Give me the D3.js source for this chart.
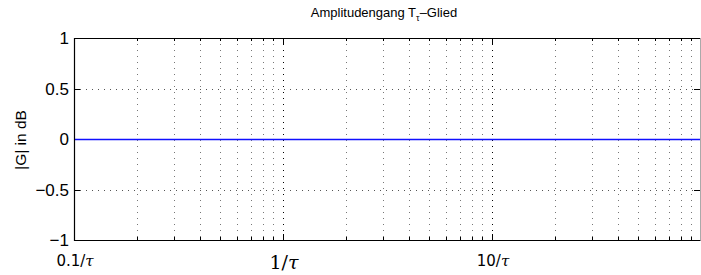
<!DOCTYPE html>
<html>
<head>
<meta charset="utf-8">
<script src="https://cdn.jsdelivr.net/npm/d3@7"></script>
<style>
  body { margin: 0; background: #fff; }
  svg { display: block; }
</style>
</head>
<body>
<div id="chart"></div>
<script>
// data
var omega = [0.1, 1, 10, 100];
var magDb = [0, 0, 0, 0];
var yTicks = [-1, -0.5, 0, 0.5, 1];
var yTickLabels = ["\u22121", "\u22120.5", "0", "0.5", "1"];
var xMajor = [0.1, 1, 10];
var xMajorLabels = ["0.1", "1", "10"];

var width = 701, height = 275;
var margin = { left: 74, right: 0, top: 38, bottom: 35 };

var svg = d3.select("#chart").append("svg")
    .attr("width", width)
    .attr("height", height);

//scales
var x = d3.scaleLog().domain([0.1, 100]).range([margin.left, width - margin.right]);
var y = d3.scaleLinear().domain([-1, 1]).range([height - margin.bottom, margin.top]);

var x0 = x.range()[0], x1 = x.range()[1];
var y0 = y.range()[0], y1 = y.range()[1];

//grid
var grid = svg.append("g").attr("class", "grid");
var xGrid = x.ticks().filter(d => d > 0.1 && d < 100);
grid.selectAll(".vgrid")
    .data(xGrid)
    .enter()
    .append("line")
    .attr("x1", d => Math.round(x(d)) + 0.5)
    .attr("x2", d => Math.round(x(d)) + 0.5)
    .attr("y1", y1)
    .attr("y2", y0)
    .attr("stroke", d => xMajor.indexOf(d) >= 0 ? "#000" : "#777")
    .attr("stroke-width", 1)
    .attr("stroke-dasharray", "1,5");

grid.selectAll(".hgrid")
    .data(yTicks.filter(d => d !== -1 && d !== 1 && d !== 0))
    .enter()
    .append("line")
    .attr("x1", x0)
    .attr("x2", x1)
    .attr("y1", d => Math.round(y(d)) + 0.5)
    .attr("y2", d => Math.round(y(d)) + 0.5)
    .attr("stroke", "#555")
    .attr("stroke-width", 1)
    .attr("stroke-dasharray", "1,5");

//tick marks
var ticks = svg.append("g").attr("class", "ticks").attr("stroke", "#000");
xGrid.forEach(function (d) {
    var len = xMajor.indexOf(d) >= 0 ? 6 : 3;
    var px = Math.round(x(d)) + 0.5;
    ticks.append("line").attr("x1", px).attr("x2", px).attr("y1", y0).attr("y2", y0 - len);
    ticks.append("line").attr("x1", px).attr("x2", px).attr("y1", y1).attr("y2", y1 + len);
});
yTicks.forEach(function (d) {
    var py = Math.round(y(d)) + 0.5;
    ticks.append("line").attr("x1", x0).attr("x2", x0 + 6).attr("y1", py).attr("y2", py);
    ticks.append("line").attr("x1", x1 - 1).attr("x2", x1 - 7).attr("y1", py).attr("y2", py);
});

//data line
var line = d3.line()
    .x((d, i) => x(omega[i]))
    .y(d => Math.round(y(d)) + 0.5);

svg.append("path")
    .datum(magDb)
    .attr("fill", "none")
    .attr("stroke", "#1010ff")
    .attr("stroke-width", 1.6)
    .attr("d", line);

//frame
svg.append("path")
    .attr("fill", "none")
    .attr("stroke", "#000")
    .attr("stroke-width", 1.2)
    .attr("d", "M" + (x1 - 0.5) + "," + (y1 + 0.5) + "H" + (x0 + 0.5) + "V" + (y0 + 0.5) + "H" + (x1 - 0.5));
svg.append("line")
    .attr("x1", x1 - 0.5).attr("x2", x1 - 0.5)
    .attr("y1", y1).attr("y2", y0)
    .attr("stroke", "#aaa");

//y labels
svg.append("g")
    .selectAll("text")
    .data(yTicks)
    .enter()
    .append("text")
    .attr("x", x0 - 5)
    .attr("y", d => y(d) + 6)
    .attr("text-anchor", "end")
    .style("font-family", "Liberation Sans, Arial, sans-serif")
    .style("font-size", "17px")
    .text((d, i) => yTickLabels[i]);

svg.append("text")
    .attr("transform", "translate(26," + (y(0) + 1) + ") rotate(-90)")
    .attr("text-anchor", "middle")
    .style("font-family", "Liberation Sans, Arial, sans-serif")
    .style("font-size", "15.5px")
    .text("|G| in dB");

//x labels
var xl = svg.append("g");
xMajor.forEach(function (d, i) {
    var big = d === 1;
    var t = xl.append("text")
        .attr("x", x(d) + 1)
        .attr("y", big ? 269 : 266)
        .attr("text-anchor", "middle")
        .style("font-family", big ? "DejaVu Serif, serif" : "DejaVu Sans, sans-serif")
        .style("font-size", big ? "19px" : "15px");
    t.append("tspan").text(xMajorLabels[i] + "/");
    t.append("tspan").style("font-style", "italic").style("font-family", "DejaVu Serif, serif").text("\u03c4");
});

//title
var title = svg.append("text")
    .attr("x", 384)
    .attr("y", 17)
    .attr("text-anchor", "middle")
    .style("font-family", "Liberation Sans, Arial, sans-serif")
    .style("font-size", "13px");
title.append("tspan").text("Amplitudengang T");
title.append("tspan").attr("dy", 4).style("font-size", "9px").text("\u03c4");
title.append("tspan").attr("dy", -4).text("\u2013Glied");
</script>
</body>
</html>
